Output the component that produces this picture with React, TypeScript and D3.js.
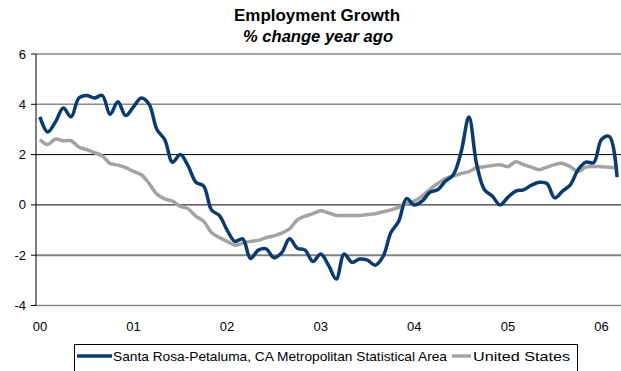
import React from "react";
import * as d3 from "d3";

// Monthly observations, Jan 2000 – Mar 2006 (% change year ago)
const santaRosa: number[] = [
  3.5, 2.9, 3.3, 3.85, 3.5, 4.25, 4.35, 4.25, 4.35, 3.6, 4.1, 3.55,
  3.9, 4.25, 4.0, 3.0, 2.6, 1.7, 2.0, 1.55, 0.9, 0.75, -0.2, -0.42,
  -1.0, -1.45, -1.35, -2.13, -1.8, -1.75, -2.1, -1.9, -1.35, -1.72, -1.8, -2.25,
  -1.95, -2.4, -2.95, -1.95, -2.28, -2.15, -2.2, -2.4, -2.05, -1.1, -0.65, 0.25,
  0.0, 0.15, 0.5, 0.6, 0.95, 1.2, 2.1, 3.5, 1.6, 0.6, 0.35, 0.0,
  0.3, 0.55, 0.6, 0.78, 0.9, 0.85, 0.28, 0.55, 0.8, 1.4, 1.7, 1.68,
  2.6, 2.72, 1.1,
];

const unitedStates: number[] = [
  2.6, 2.4, 2.62, 2.55, 2.55, 2.3, 2.2, 2.08, 1.95, 1.65, 1.58, 1.48,
  1.33, 1.2, 0.85, 0.43, 0.24, 0.15, -0.06, -0.15, -0.45, -0.65, -1.1, -1.3,
  -1.45, -1.6, -1.52, -1.45, -1.41, -1.3, -1.23, -1.12, -0.95, -0.6, -0.45, -0.35,
  -0.23, -0.32, -0.42, -0.42, -0.42, -0.42, -0.38, -0.35, -0.27, -0.2, -0.1, 0.07,
  0.15, 0.35, 0.62, 0.85, 1.05, 1.15, 1.25, 1.32, 1.48, 1.52, 1.57, 1.6,
  1.52, 1.72, 1.6, 1.5, 1.4, 1.5, 1.6, 1.65, 1.52, 1.33, 1.5, 1.53,
  1.52, 1.5, 1.48,
];

const yearLabels: string[] = ["00", "01", "02", "03", "04", "05", "06"];
const yTicks: number[] = [-4, -2, 0, 2, 4, 6];
const seriesNames: string[] = [
  "Santa Rosa-Petaluma, CA Metropolitan Statistical Area",
  "United States",
];

const W = 621;
const H = 371;
const plot = { left: 36, right: 621, top: 54, bottom: 305.5 };
const FONT = "'Liberation Sans', Arial, sans-serif";
const BLUE = "#0b3b6e";
const GRAY = "#a3a3a3";

export default function App() {
  const months = d3.range(santaRosa.length);
  const x = d3
    .scalePoint<number>()
    .domain(months)
    .range([plot.left, plot.right])
    .padding(0.5);
  const y = d3.scaleLinear().domain([-4, 6]).range([plot.bottom, plot.top]);

  const line = d3
    .line<number>()
    .x((_, i) => x(i) as number)
    .y((d) => y(d))
    .curve(d3.curveCatmullRom.alpha(0.5));

  const gridStyle = (v: number) => {
    if (v === 0 || v === 2) return { stroke: "#000", width: 1 };
    if (v === -2) return { stroke: "#808080", width: 2 };
    return { stroke: "#8a8a8a", width: 1.5 };
  };

  return (
    <svg
      width={W}
      height={H}
      style={{ position: "absolute", left: 0, top: 0, background: "#fff" }}
      fontFamily={FONT}
    >
      <text
        x={317}
        y={21}
        textAnchor="middle"
        fontSize={16}
        fontWeight="bold"
        textLength={166}
        lengthAdjust="spacingAndGlyphs"
      >
        Employment Growth
      </text>
      <text
        x={318}
        y={42}
        textAnchor="middle"
        fontSize={16}
        fontWeight="bold"
        fontStyle="italic"
        textLength={150}
        lengthAdjust="spacingAndGlyphs"
      >
        % change year ago
      </text>

      {yTicks.map((v) => {
        const g = gridStyle(v);
        return (
          <g key={v}>
            <line
              x1={plot.left}
              x2={plot.right}
              y1={y(v)}
              y2={y(v)}
              stroke={g.stroke}
              strokeWidth={g.width}
            />
            <line x1={31} x2={plot.left} y1={y(v)} y2={y(v)} stroke="#000" strokeWidth={1} />
            <text x={26} y={y(v) + 4.5} textAnchor="end" fontSize={13}>
              {v}
            </text>
          </g>
        );
      })}
      <line
        x1={plot.left}
        x2={plot.left}
        y1={plot.top}
        y2={plot.bottom}
        stroke="#000"
        strokeWidth={1}
      />

      {yearLabels.map((lab, k) => (
        <text
          key={lab}
          x={x(k * 12) as number}
          y={331}
          textAnchor="middle"
          fontSize={13}
        >
          {lab}
        </text>
      ))}

      <path d={line(unitedStates) ?? ""} fill="none" stroke={GRAY} strokeWidth={3.5} strokeLinejoin="round" />
      <path d={line(santaRosa) ?? ""} fill="none" stroke={BLUE} strokeWidth={3.5} strokeLinejoin="round" />

      <g>
        <rect x={74.5} y={344.5} width={503} height={40} fill="#fff" stroke="#000" strokeWidth={1} />
        <line x1={77} x2={112} y1={356} y2={356} stroke={BLUE} strokeWidth={3.5} />
        <text
          x={113}
          y={361}
          fontSize={13.5}
          textLength={334}
          lengthAdjust="spacingAndGlyphs"
        >
          {seriesNames[0]}
        </text>
        <line x1={452} x2={471} y1={356} y2={356} stroke={GRAY} strokeWidth={3.5} />
        <text
          x={473}
          y={361}
          fontSize={13.5}
          textLength={97}
          lengthAdjust="spacingAndGlyphs"
        >
          {seriesNames[1]}
        </text>
      </g>
    </svg>
  );
}
